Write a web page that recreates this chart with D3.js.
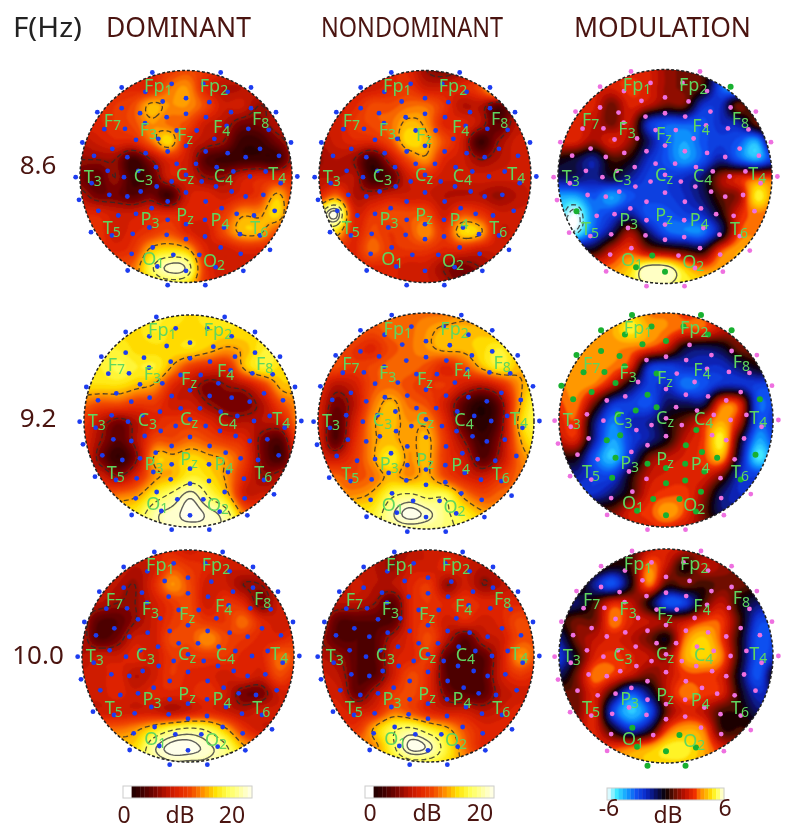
<!DOCTYPE html>
<html>
<head>
<meta charset="utf-8">
<script src="https://cdn.jsdelivr.net/npm/d3@7"></script>
<style>
  html, body { margin: 0; background: #fff; }
  svg { display: block; filter: blur(0.35px); }
  text { font-family: "Noto Sans", "Open Sans", sans-serif; }
</style>
</head>
<body>
<svg id="chart" width="792" height="836"></svg>
<script>
// dB values on a 13x13 grid, top row first
const dom86 = [
  [8,8,8,8,8,9,10,9,8,8,8,8,8],
  [8,8,8,8,8,11,12,8,6,6,7,7,7],
  [8,8,9,10,13,12,12,10,7,7,5,6,6],
  [8,8,9,10,12,11,10,7,6,4,4,6,6],
  [6,7,8,8,11,14,8,6,5,2,2,4,6],
  [5,5,5,2,5,8,7,3,2,2,2,2,6],
  [4,3,5,2,3,7,7,5,5,7,8,8,8],
  [6,4,4,3,4,2,7,8,7,8,9,13,9],
  [8,8,7,7,8,8,8,8,9,12,12,14,9],
  [9,9,7,8,9,10,8,7,10,13,13,10,9],
  [9,9,8,9,13,14,13,8,7,8,8,8,8],
  [10,10,10,11,16,19,18,9,7,7,7,7,7],
  [10,10,10,11,14,15,14,9,7,7,7,7,7]
];
const non86 = [
  [7,7,7,7,8,8,5,4,5,7,10,10,10],
  [7,7,7,7,8,9,7,7,8,10,16,14,8],
  [7,7,8,10,10,11,11,9,6,6,3,6,6],
  [7,7,9,10,11,13,12,8,8,6,3,6,6],
  [6,7,8,8,10,14,13,10,7,2,5,7,7],
  [5,6,5,2,6,10,12,8,7,5,6,7,7],
  [6,6,6,2,3,7,8,7,7,7,7,7,7],
  [8,11,6,6,7,7,7,6,6,6,5,6,7],
  [16,20,8,9,10,10,10,7,10,9,7,7,7],
  [14,14,8,10,9,10,12,9,14,13,7,7,7],
  [9,9,8,11,9,9,9,8,8,7,7,7,7],
  [8,8,8,8,8,7,7,5,4,5,6,6,6],
  [8,8,8,8,8,7,7,6,4,4,5,5,5]
];
const mod86 = [
  [2.5,2.5,2.5,2.5,2.5,2.5,1.5,1,0.5,-2,-4,-4,-4],
  [2.5,2.5,2.5,2.5,3,2.5,1.5,1,0.5,-3,-5,-5,-4],
  [2.5,2.5,2.5,1,2.5,2,1,1,-2,-2,1,-1,-1],
  [2.5,2.5,2,1,2,-2,-3,-3,-3,-2,-1.5,1,1],
  [2.5,2.5,1.5,2.5,1.5,-1,-3,-4,-3,-2.5,-3,-4,1],
  [0,-0.5,-1.5,0.5,0,-2,-3,-4,-3,-1.5,-3,-4,-2],
  [-1,-1,-1.5,-0.5,-1.5,-2.5,-2.5,-2,-1,1.5,2.5,3,3],
  [-4,-4,-3,-4,-3,-2.5,-2.5,-2,-1,0.8,1.5,5,3.5],
  [-4.5,-6,-3.5,-2.5,-1.5,-3,-3,-2.5,-2,0,2.5,3.5,3],
  [-5.5,-5.5,-3,-1,1.5,-1,-3,-3.5,-3.5,-1,3,3.5,3.5],
  [0,0,0,2,3,1.5,1,0.5,0,3,4,4,4],
  [3.5,3.5,3.5,3.5,4.5,6,6,4.5,3.5,4,4,4,4],
  [5,5,5,5,5,5.5,5.5,5,5,5,5,5,5]
];
const dom92 = [
  [14,14,14,14,15,15,14,15,15,14,14,14,14],
  [14,14,14,14,15,14,14,14,14,14,14,14,14],
  [14,15,15,14,14,14,14,13,12,13,15,15,15],
  [15,15,16,15,15,12,9,8,8,13,15,14,14],
  [14,14,14,13,12,8,6,4,5,6,9,13,13],
  [11,10,10,9,9,7,7,5,4,4,6,10,12],
  [9,6,4,6,8,9,9,8,6,6,6,7,12],
  [8,5,3,6,10,10,11,10,9,8,4,3,10],
  [8,4,1.5,5,13,13,14,13,12,9,4,2.5,8],
  [7,7,5,8,12,13,15,14,12,8,5,6,7],
  [10,10,11,12,15,17,19,16,13,7,7,7,7],
  [14,14,14,15,18,19,20,19,17,11,10,10,10],
  [16,16,16,17,18,19,19,19,18,15,13,13,13]
];
const non92 = [
  [11,11,11,11,11,11,11,11,12,11,11,10,10],
  [11,11,11,10,11,11,12,13,13,13,12,10,10],
  [10,10,9,8,10,11,12,13,13,14,15,13,13],
  [10,10,9,10,11,11,10,8,10,13,15,13,13],
  [9,6,7,10,11,10,9,9,7,6,8,12,14],
  [8,4,6,11,13,11,10,7,3,1,4,12,16],
  [8,3,7,12,13,12,12,8,3,1,4,13,16],
  [8,3,8,12,13,12,13,9,5,2,5,12,15],
  [8,7,9,12,15,12,13,9,7,3,6,11,13],
  [11,11,10,11,13,12,13,10,8,7,9,11,12],
  [12,12,12,13,16,17,16,16,12,10,11,11,11],
  [14,14,15,15,18,20,19,17,15,13,12,12,12],
  [16,16,16,16,17,17,17,17,16,15,14,14,14]
];
const mod92 = [
  [3.5,3.5,3.5,3.5,4.5,3.5,3.5,3,3,2,2,2,2],
  [3.5,3.5,3.5,4,5,4,3.5,3,3,2,1.5,1,1],
  [3.5,3.5,3.8,3.7,3.5,3,2,-0.5,-1,-0.5,1,1,0],
  [3.5,3.8,3.8,3.5,2.5,-2,-2.5,-2,-2,-2,-1,0,0],
  [3.5,3.8,3.5,2,-0.5,-2.5,-2,-3.5,-3,-2,-2,-2.5,-2.5],
  [3,3.5,1,-2,-2.5,-3,-1,-1,-1,3,2.5,-3,-2.5],
  [2.5,3,-1,-3.5,-2,-1.5,0,1,2.5,4,2,-3,-2],
  [2,2.5,-1.5,-4,-2.5,-1.5,0,2,3,5,0,-4,-2.5],
  [0,0,-3,-4.5,-2,1,2,2.5,3,4,-1,-5,-3],
  [-1.5,-1.5,-2.5,-2.5,0,2,2.5,2.5,2.5,1,-2,-2.5,-2.5],
  [-2,-2,-2,-1,0.5,2.5,3,3,1.5,-1,-2,-2,-2],
  [1,1,1,1,2.5,3,4,3,1,-1,-1,-1,-1],
  [2,2,2,2,2,2.5,2.5,2,1.5,1,1,1,1]
];
const dom100 = [
  [7,7,7,7,8,8,7,8,8,7,7,7,7],
  [7,7,7,6,7,10,9,8,7,7,7,7,7],
  [7,7,6,5,8,12,10,7,7,5,5,7,7],
  [6,6,5,5,7,9,10,7,9,8,4,7,7],
  [6,3,3,5,7,9,10,9,9,11,8,7,7],
  [6,3,4,7,7,10,10,12,10,9,8,8,9],
  [6,7,7,8,7,9,9,9,9,8,8,11,10],
  [7,7,8,6,7,9,8,8,7,8,7,10,8],
  [7,7,8,7,8,8,8,9,7,4,4,7,7],
  [7,7,7,7,7,6,7,8,7,6,7,7,7],
  [11,11,11,12,14,16,17,16,13,9,7,7,7],
  [14,14,14,14,18,20,20,19,17,13,11,11,11],
  [16,16,16,16,17,18,18,18,17,15,13,13,13]
];
const non100 = [
  [6,6,6,6,5,6,7,7,7,7,7,7,7],
  [6,6,6,6,5,7,7,8,7,6,7,7,7],
  [6,6,7,6,6,8,9,5,7,5,6,7,7],
  [6,6,6,5,3,8,9,8,9,8,8,8,8],
  [6,3,3,3,3,8,9,7,8,7,8,10,9],
  [5,3,3,3,6,8,10,6,3,6,7,10,10],
  [6,5,3,3,7,8,9,3,3,3,7,12,10],
  [7,6,3,3,7,10,8,3,3,3,7,9,8],
  [7,7,3.5,6,9,10,8,4,3,3,6,7,7],
  [8,8,7,8,11,10,8,7,7,6,7,8,8],
  [9,9,9,13,16,17,15,13,10,8,8,8,8],
  [12,12,12,12,16,20,19,15,11,8,8,8,8],
  [13,13,13,13,14,15,15,14,12,10,9,9,9]
];
const mod100 = [
  [1,1,1,1,0.5,2,2.5,2,1,1,1,1,1],
  [1,1,1,0,0.5,3.5,2,0,2,1.5,1,1,1],
  [1,1,-1.5,-3,0,3.5,0.5,1,0.5,1,1,0.5,0.5],
  [-1,-1,0.5,2.5,2,0,-3,-2.5,0.5,2,0,-1,-1],
  [0,1,1,3.5,2.5,2,1.5,2,3,3,0.5,-2.5,-2.5],
  [-1.5,1,2,2.5,2,1,0,3.5,4.5,3,0,-3,-2.5],
  [-2.5,0,2.5,3,2.5,2,1.5,4,4.5,3.5,0,-3,-2],
  [-1,1,3.5,3,2,1,2,3,3,2.5,-0.5,-3,0.5],
  [1,1,2.5,0,-3,-1,2,3.5,3,2.5,0,-2,-1],
  [1,1,2.5,-2.5,-4.5,-3,1,2.5,2,0.5,0.3,-1,-1],
  [2,2,2.5,0,-2,-0.5,3,4,3.5,0.5,0.5,0.5,0.5],
  [3,3,3,3,3.5,4,5,5,4,2.5,2,2,2],
  [4,4,4,4,4,4.5,4.5,4.5,4,3,3,3,3]
];

const columns = ['DOMINANT', 'NONDOMINANT', 'MODULATION'];
const freqs = ['8.6', '9.2', '10.0'];
const grids = [dom86, non86, mod86, dom92, non92, mod92, dom100, non100, mod100];

// sensor sites in head units, the head circle spans 30..666 across and 32..668 down
const electrodes = [
  [247,38],[452,38],[155,83],[543,83],[305,72],[400,72],[226,96],[473,96],[278,125],[348,115],
  [418,127],[82,157],[155,145],[210,160],[290,172],[348,162],[408,172],[483,157],[543,145],[618,157],
  [103,208],[165,207],[225,190],[265,237],[320,212],[380,212],[433,237],[470,198],[535,207],[596,210],
  [37,248],[198,240],[127,267],[227,280],[293,275],[348,258],[407,275],[473,280],[570,267],[663,248],
  [72,288],[172,292],[258,322],[320,312],[378,312],[440,322],[527,292],[627,288],[113,333],[162,352],
  [17,352],[205,333],[305,365],[348,345],[395,365],[490,335],[540,350],[587,335],[682,350],[65,370],
  [212,395],[260,380],[438,380],[485,395],[632,370],[118,405],[172,410],[348,398],[293,425],[407,425],
  [527,410],[580,405],[27,420],[245,445],[455,445],[85,453],[145,467],[198,462],[293,480],[348,493],
  [405,480],[500,462],[552,467],[614,453],[238,503],[462,503],[126,527],[188,522],[510,523],[570,527],
  [63,517],[290,525],[405,530],[348,538],[248,563],[452,563],[600,570],[185,582],[310,585],[388,585],
  [512,582],[262,620],[348,633],[437,622],[173,632],[520,633],[293,676],[406,676]
];

// sites drawn green on the modulation maps, one list per frequency
const green86 = [[546,80],[85,452],[313,582],[265,620],[349,630]];
const green92 = [
  [243,32],[450,32],[151,79],[541,79],[301,67],[395,67],[222,90],[470,90],[275,122],[344,109],
  [151,139],[78,152],[206,154],[231,189],[98,203],[160,200],[318,207],[195,234],[33,243],[123,262],
  [289,270],[68,282],[316,307],[256,317],[205,332],[210,389],[166,404],[403,420],[194,457],[451,439],
  [288,474],[343,487],[403,474],[498,457],[460,495],[185,519],[343,534],[405,524],[568,520],[450,557],
  [308,579],[384,579],[258,615],[434,615],[343,627],[624,283],[436,375],[610,447]
];
const green100 = [[247,561],[389,582],[264,620],[349,632],[437,620],[294,675],[406,675]];

const siteNames = ['Fp1','Fp2','F7','F3','Fz','F4','F8','T3','C3','Cz','C4','T4','T5','P3','Pz','P4','T6','O1','O2'];
const siteX = [265,432,127,235,345,455,572,68,220,345,460,622,125,240,345,450,568,250,432];
const siteY = [78,78,183,210,225,200,178,350,348,345,348,343,505,478,465,480,505,598,603];

// head circles, left to right then top to bottom
const mapCx = [186,425,665, 190,426,666, 188,428,666];
const mapCy = [176.5,176.5,176.5, 421,421,420, 656,656,656];
const mapR  = [106,106,107, 106,108,107, 106,106,107];

const domStops = [0,2,4,6,8,10,12,14,16,20];
const domColors = ['#180000','#3c0000','#740400','#b81200','#e02400','#f04400','#ff9000','#ffe000','#ffff50','#fffff0'];
const modStops = [-6,-5,-4,-3,-2,-1,0,1,2,3,3.5,4.7,5.2,6];
const modColors = ['#ffffff','#40e8ff','#10a0ff','#1050f0','#0a28c8','#0a1060','#0a0000','#701000','#c01000','#f03000','#ff8000','#ffe000','#ffff40','#fffff0'];

const domColor = d3.scaleLinear().domain(domStops).range(domColors).clamp(true);
const modColor = d3.scaleLinear().domain(modStops).range(modColors).clamp(true);

const domBands = d3.range(0, 20, 0.75);
const modBands = d3.range(-6, 6, 0.4);

const maroon = '#4a1410';
const svg = d3.select('#chart');
const defs = svg.append('defs');
defs.append('filter').attr('id', 'soft')
  .attr('x', '-5%').attr('y', '-5%').attr('width', '110%').attr('height', '110%')
  .append('feGaussianBlur').attr('stdDeviation', 0.8);

// Catmull-Rom resample of a coarse grid, only so the filled contours come out smooth
function resample(grid, factor) {
  const n = grid.length;
  const size = (n - 1) * factor + 1;
  const at = (r, c) => grid[Math.max(0, Math.min(n - 1, r))][Math.max(0, Math.min(n - 1, c))];
  const cr = (a, b, c, d, t) =>
    0.5 * (2 * b + (c - a) * t + (2 * a - 5 * b + 4 * c - d) * t * t + (3 * b - a - 3 * c + d) * t * t * t);
  const out = new Array(size * size);
  for (let j = 0; j < size; j++) {
    const r = Math.floor(j / factor), tr = j / factor - r;
    for (let i = 0; i < size; i++) {
      const c = Math.floor(i / factor), tc = i / factor - c;
      const rows = [-1, 0, 1, 2].map(k =>
        cr(at(r + k, c - 1), at(r + k, c), at(r + k, c + 1), at(r + k, c + 2), tc));
      out[j * size + i] = cr(rows[0], rows[1], rows[2], rows[3], tr);
    }
  }
  return { values: out, size };
}

function nearestElectrodes(points) {
  const picked = new Set();
  points.forEach(p => {
    picked.add(d3.least(d3.range(electrodes.length), i =>
      (electrodes[i][0] - p[0]) ** 2 + (electrodes[i][1] - p[1]) ** 2));
  });
  return picked;
}

const greenSets = [green86, green92, green100].map(nearestElectrodes);

function drawMap(idx) {
  const col = idx % 3, row = Math.floor(idx / 3);
  const isMod = col === 2;
  const cx = mapCx[idx], cy = mapCy[idx], r = mapR[idx];
  const color = isMod ? modColor : domColor;
  const bands = isMod ? modBands : domBands;
  const step = bands[1] - bands[0];

  const headX = d3.scaleLinear().domain([30, 666]).range([cx - r, cx + r]);
  const headY = d3.scaleLinear().domain([32, 668]).range([cy - r, cy + r]);

  const { values, size } = resample(grids[idx], 8);
  // grid overshoots the circle a little so the rim is always covered
  const gridX = d3.scaleLinear().domain([0, size - 1]).range([cx - r * 1.02, cx + r * 1.02]);
  const gridY = d3.scaleLinear().domain([0, size - 1]).range([cy - r * 1.02, cy + r * 1.02]);
  const path = d3.geoPath(d3.geoTransform({
    point(x, y) { this.stream.point(gridX(x), gridY(y)); }
  }));

  const clipId = `head-${idx}`;
  defs.append('clipPath').attr('id', clipId)
    .append('circle').attr('cx', cx).attr('cy', cy).attr('r', r);

  const g = svg.append('g').attr('class', 'map');
  const body = g.append('g').attr('clip-path', `url(#${clipId})`);
  const fills = body.append('g').attr('filter', 'url(#soft)');

  fills.append('rect')
    .attr('x', cx - r - 4).attr('y', cy - r - 4)
    .attr('width', 2 * r + 8).attr('height', 2 * r + 8)
    .attr('fill', color(bands[0]));

  fills.selectAll('path')
    .data(d3.contours().size([size, size]).thresholds(bands)(values))
    .join('path')
      .attr('d', path)
      .attr('fill', d => color(d.value + step / 2));

  const dashed = isMod ? [-5.2, -5.7] : [5, 12.5, 16.5];
  const solid = isMod ? [5.5] : [18.5, 19.5];
  body.append('g').selectAll('path')
    .data(d3.contours().size([size, size]).thresholds(dashed)(values))
    .join('path')
      .attr('d', path)
      .attr('fill', 'none')
      .attr('stroke', '#2a2a2a')
      .attr('stroke-opacity', 0.8)
      .attr('stroke-width', 1.3)
      .attr('stroke-dasharray', '5 3');
  body.append('g').selectAll('path')
    .data(d3.contours().size([size, size]).thresholds(solid)(values))
    .join('path')
      .attr('d', path)
      .attr('fill', 'none')
      .attr('stroke', '#444')
      .attr('stroke-opacity', 0.85)
      .attr('stroke-width', 1.4);

  g.append('circle')
    .attr('cx', cx).attr('cy', cy).attr('r', r)
    .attr('fill', 'none')
    .attr('stroke', '#222')
    .attr('stroke-width', 1.5)
    .attr('stroke-dasharray', '3 2');

  const greens = isMod ? greenSets[row] : new Set();
  g.append('g').selectAll('circle')
    .data(electrodes)
    .join('circle')
      .attr('cx', d => headX(d[0]))
      .attr('cy', d => headY(d[1]))
      .attr('r', (d, i) => greens.has(i) ? 3 : 2.4)
      .attr('fill', (d, i) => !isMod ? '#1c3cf0' : greens.has(i) ? '#18b030' : '#ee70e0');

  const labels = g.append('g').selectAll('text')
    .data(siteNames)
    .join('text')
      .attr('x', (d, i) => headX(siteX[i]))
      .attr('y', (d, i) => headY(siteY[i]) + 6)
      .attr('text-anchor', 'middle')
      .attr('fill', '#5fd65f')
      .attr('font-size', 18);
  labels.append('tspan').text(d => d.slice(0, d.length - 1));
  labels.append('tspan').attr('dy', 3).attr('font-size', 14).text(d => d.slice(-1));
}

d3.range(grids.length).forEach(drawMap);

// header and row labels
svg.append('text').attr('x', 13).attr('y', 37)
  .attr('font-size', 27).attr('fill', '#222')
  .attr('textLength', 69).attr('lengthAdjust', 'spacingAndGlyphs')
  .text('F(Hz)');

const columnX = [178.5, 412, 662.5];
const columnW = [145, 182, 177];
svg.selectAll('text.column')
  .data(columns)
  .join('text')
    .attr('class', 'column')
    .attr('x', (d, i) => columnX[i])
    .attr('y', 37)
    .attr('text-anchor', 'middle')
    .attr('font-size', 27)
    .attr('textLength', (d, i) => columnW[i])
    .attr('lengthAdjust', 'spacingAndGlyphs')
    .attr('fill', maroon)
    .text(d => d);

const freqY = [174, 427, 664];
svg.selectAll('text.freq')
  .data(freqs)
  .join('text')
    .attr('class', 'freq')
    .attr('x', 38)
    .attr('y', (d, i) => freqY[i])
    .attr('text-anchor', 'middle')
    .attr('font-size', 26)
    .attr('fill', maroon)
    .text(d => d);

// colour bars
const barLabels = [['0', 'dB', '20'], ['0', 'dB', '20'], ['-6', 'dB', '6']];
const barX = [123, 365, 607];
const barW = [129, 129, 117];
const barY = [786, 786, 788];
const barLabelX = [[124, 180, 232], [370, 427, 480], [609, 668, 725]];
const barLabelY = [[823, 823, 823], [821, 821, 821], [816, 823, 816]];

barX.forEach((x0, k) => {
  const isMod = k === 2;
  const color = isMod ? modColor : domColor;
  const lo = isMod ? -6 : -1, hi = isMod ? 6 : 20;
  const bx = d3.scaleLinear().domain([lo, hi]).range([x0, x0 + barW[k]]);
  const cells = d3.range(lo, hi, isMod ? 0.4 : 0.7);
  const step = cells[1] - cells[0];
  const bar = svg.append('g');
  bar.selectAll('rect')
    .data(cells)
    .join('rect')
      .attr('x', d => bx(d))
      .attr('y', barY[k])
      .attr('width', d => bx(Math.min(hi, d + step)) - bx(d) + 0.3)
      .attr('height', 12)
      .attr('fill', d => (!isMod && d < 0) ? '#fff' : color(d + step / 2));
  bar.append('rect')
    .attr('x', x0).attr('y', barY[k])
    .attr('width', barW[k]).attr('height', 12)
    .attr('fill', 'none').attr('stroke', '#ccc').attr('stroke-width', 1);
  svg.selectAll(`text.bar${k}`)
    .data(barLabels[k])
    .join('text')
      .attr('class', `bar${k}`)
      .attr('x', (d, i) => barLabelX[k][i])
      .attr('y', (d, i) => barLabelY[k][i])
      .attr('text-anchor', 'middle')
      .attr('font-size', 23)
      .attr('fill', maroon)
      .text(d => d);
});
</script>
</body>
</html>
